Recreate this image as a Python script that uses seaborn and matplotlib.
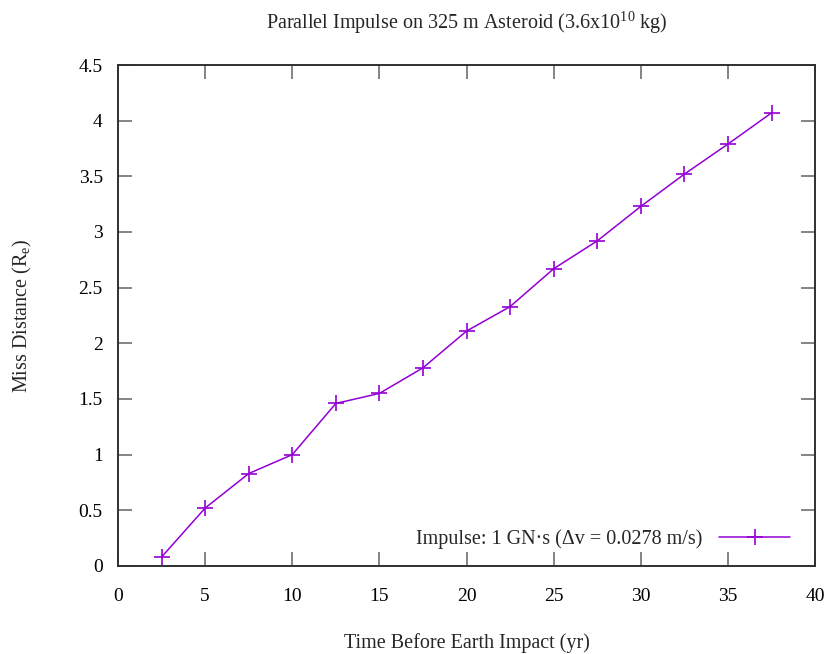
import matplotlib
matplotlib.use("Agg")
import matplotlib.pyplot as plt
import seaborn as sns
import pandas as pd

years = [2.5, 5, 7.5, 10, 12.5, 15, 17.5, 20, 22.5, 25, 27.5, 30, 32.5, 35, 37.5]
miss = [0.08, 0.52, 0.83, 1.0, 1.46, 1.55, 1.78, 2.11, 2.33, 2.67, 2.92, 3.23, 3.52, 3.79, 4.07]
x_ticks = [0, 5, 10, 15, 20, 25, 30, 35, 40]
y_ticks = [0, 0.5, 1, 1.5, 2, 2.5, 3, 3.5, 4, 4.5]
y_tick_labels = ["0", "0.5", "1", "1.5", "2", "2.5", "3", "3.5", "4", "4.5"]
series_label = "Impulse: 1 GN·s (Δv = 0.0278 m/s)"

sns.set_theme(style="white")
plt.rcParams['font.family'] = ['Liberation Serif', 'DejaVu Serif']
plt.rcParams['mathtext.fontset'] = 'custom'
plt.rcParams['mathtext.rm'] = 'Liberation Serif'
plt.rcParams['mathtext.it'] = 'Liberation Serif'

color = "#9400d3"
df = pd.DataFrame({"years": years, "miss": miss, "series": series_label})

fig = plt.figure(figsize=(8.25, 6.54), dpi=100)
ax = fig.add_axes([0.143, 0.1346, 0.845, 0.766])
sns.lineplot(data=df, x="years", y="miss", hue="series", palette=[color],
             marker="+", markersize=11, markeredgewidth=1.2, markeredgecolor=color,
             linewidth=1.1, ax=ax)

ax.set_xlim(0, 40)
ax.set_ylim(0, 4.5)
ax.set_xticks(x_ticks)
ax.set_xticklabels([str(t) for t in x_ticks])
ax.set_yticks(y_ticks)
ax.set_yticklabels(y_tick_labels)
ax.tick_params(direction="in", length=10, width=1.2, color="#707070", labelsize=14,
               top=True, right=True, bottom=True, left=True, labelcolor="black")
ax.tick_params(axis="x", pad=16)
ax.tick_params(axis="y", pad=11)
for s in ax.spines.values():
    s.set_color("#303030")
    s.set_linewidth(1.4)

ax.set_xlabel("Time Before Earth Impact (yr)", fontsize=14.5, labelpad=20)
ax.set_ylabel("Miss Distance (R$_e$)", fontsize=14.5, labelpad=32)
ax.set_title("Parallel Impulse on 325 m Asteroid (3.6x10$^{10}$ kg)", fontsize=14.5, pad=26)

ax.legend(loc="lower right", bbox_to_anchor=(0.9885, 0.0), frameon=False,
          markerfirst=False, fontsize=14.5,
          handlelength=3.5, handletextpad=0.85, borderaxespad=0.45)

fig.savefig("out.png", dpi=100)
